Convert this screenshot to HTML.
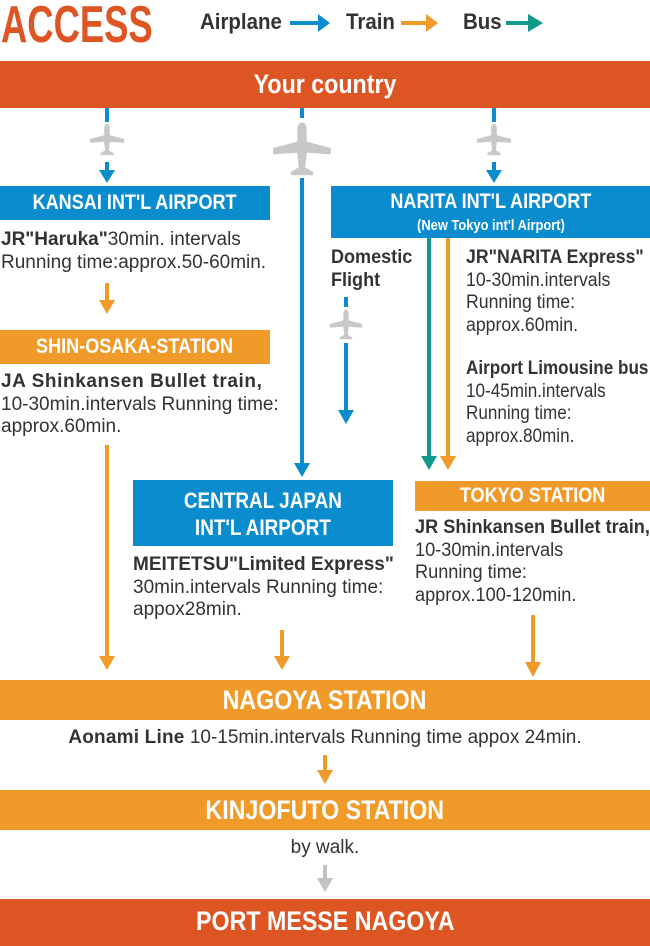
<!DOCTYPE html>
<html><head><meta charset="utf-8"><style>
*{margin:0;padding:0;box-sizing:border-box}
body{width:650px;height:946px;position:relative;background:#fff;overflow:hidden;font-family:"Liberation Sans",sans-serif;color:#333}
.a{position:absolute;white-space:nowrap}
.bar{position:absolute;color:#fff;font-weight:bold;text-align:center}
.bar span{display:inline-block;transform:scaleX(0.86)}
.bl{background:#0a8ccf}.or{background:#f09a2a}.rd{background:#de5524}
.txt{position:absolute;font-size:19px;line-height:22.5px;white-space:nowrap;transform-origin:left top}
b{font-weight:bold}
svg{position:absolute;left:0;top:0}
</style></head><body>
<div class="a" style="left:1px;top:-5px;font-size:52px;font-weight:bold;color:#de5524;transform:scaleX(0.7);transform-origin:left">ACCESS</div>
<div class="a" style="left:200px;top:9px;font-size:22px;font-weight:bold;transform:scaleX(0.93);transform-origin:left">Airplane</div>
<div class="a" style="left:346px;top:9px;font-size:22px;font-weight:bold;transform:scaleX(0.93);transform-origin:left">Train</div>
<div class="a" style="left:463px;top:9px;font-size:22px;font-weight:bold;transform:scaleX(0.93);transform-origin:left">Bus</div>

<div class="bar rd" style="left:0;top:61px;width:650px;height:47px;font-size:27px;line-height:47px"><span>Your country</span></div>
<div class="bar bl" style="left:0;top:186px;width:270px;height:34px;font-size:21px;line-height:34px"><span>KANSAI INT'L AIRPORT</span></div>
<div class="bar bl" style="left:331px;top:186px;width:319px;height:52px;font-size:21px;line-height:22px;padding-top:5px"><span>NARITA INT'L AIRPORT</span><br><span style="font-size:15px;line-height:16px">(New Tokyo int'l Airport)</span></div>
<div class="bar or" style="left:0;top:330px;width:270px;height:34px;font-size:21px;line-height:34px"><span>SHIN-OSAKA-STATION</span></div>
<div class="bar bl" style="left:133px;top:480px;width:260px;height:66px;font-size:22px;line-height:27px;padding-top:7px"><span>CENTRAL JAPAN<br>INT'L AIRPORT</span></div>
<div class="bar or" style="left:415px;top:481px;width:235px;height:30px;font-size:21px;line-height:30px"><span>TOKYO STATION</span></div>
<div class="bar or" style="left:0;top:680px;width:650px;height:40px;font-size:27px;line-height:40px"><span>NAGOYA STATION</span></div>
<div class="bar or" style="left:0;top:790px;width:650px;height:40px;font-size:27px;line-height:40px"><span>KINJOFUTO STATION</span></div>
<div class="bar rd" style="left:0;top:899px;width:650px;height:47px;font-size:27px;line-height:45px"><span>PORT MESSE NAGOYA</span></div>

<div class="txt" style="left:1px;top:229px"><b>JR"Haruka"</b>30min. intervals<br>Running time:approx.50-60min.</div>
<div class="txt" style="left:1px;top:371px"><b style="letter-spacing:0.6px">JA Shinkansen Bullet train,</b><br>10-30min.intervals Running time:<br>approx.60min.</div>
<div class="txt" style="left:331px;top:247px;transform:scaleX(0.95)"><b>Domestic<br>Flight</b></div>
<div class="txt" style="left:466px;top:247px;transform:scaleX(0.93)"><b>JR"NARITA Express"</b><br>10-30min.intervals<br>Running time:<br>approx.60min.</div>
<div class="txt" style="left:466px;top:358px;transform:scaleX(0.9)"><b>Airport Limousine bus</b><br>10-45min.intervals<br>Running time:<br>approx.80min.</div>
<div class="txt" style="left:133px;top:554px"><b>MEITETSU"Limited Express"</b><br>30min.intervals Running time:<br>appox28min.</div>
<div class="txt" style="left:415px;top:517px;transform:scaleX(0.955)"><b>JR Shinkansen Bullet train,</b><br>10-30min.intervals<br>Running time:<br>approx.100-120min.</div>
<div class="txt" style="left:0;top:727px;width:650px;text-align:center"><b style="letter-spacing:0.2px">Aonami Line</b> 10-15min.intervals Running time appox 24min.</div>
<div class="txt" style="left:0;top:837px;width:650px;text-align:center">by walk.</div>

<svg width="650" height="946">
<defs><g id="pl"><path d="M0,-16 C3,-16 3,-12 3,-8 L3,-4 L18,0 L18,4 L3,3 L2,12 L7,15 L7,17 L-7,17 L-7,15 L-2,12 L-3,3 L-18,4 L-18,0 L-3,-4 L-3,-8 C-3,-12 -3,-16 0,-16Z" fill="#c8c8c8"/></g></defs>
<g stroke-width="4" fill="none">
<line x1="107" y1="108" x2="107" y2="172" stroke="#0a8ccf"/>
<line x1="302" y1="108" x2="302" y2="465" stroke="#0a8ccf"/>
<line x1="494" y1="108" x2="494" y2="172" stroke="#0a8ccf"/>
<line x1="346" y1="297" x2="346" y2="412" stroke="#0a8ccf"/>
<line x1="107" y1="283" x2="107" y2="302" stroke="#f09a2a"/>
<line x1="107" y1="445" x2="107" y2="658" stroke="#f09a2a"/>
<line x1="429" y1="238" x2="429" y2="458" stroke="#119a8b"/>
<line x1="448" y1="238" x2="448" y2="458" stroke="#f09a2a"/>
<line x1="282" y1="630" x2="282" y2="658" stroke="#f09a2a"/>
<line x1="533" y1="615" x2="533" y2="664" stroke="#f09a2a"/>
<line x1="325" y1="755" x2="325" y2="772" stroke="#f09a2a"/>
<line x1="325" y1="865" x2="325" y2="880" stroke="#c2c2c2"/>
<line x1="290" y1="23" x2="318" y2="23" stroke="#0a8ccf"/>
<line x1="401" y1="23" x2="428" y2="23" stroke="#f09a2a"/>
<line x1="506" y1="23" x2="530" y2="23" stroke="#119a8b"/>
</g>
<polygon points="318,14 330,23 318,32" fill="#0a8ccf"/>
<polygon points="426,14 438,23 426,32" fill="#f09a2a"/>
<polygon points="528,14 543,23 528,32" fill="#119a8b"/>
<polygon points="99,170 115,170 107,183" fill="#0a8ccf"/>
<polygon points="486,170 502,170 494,183" fill="#0a8ccf"/>
<polygon points="294,463 310,463 302,477" fill="#0a8ccf"/>
<polygon points="338,410 354,410 346,424" fill="#0a8ccf"/>
<polygon points="99,300 115,300 107,314" fill="#f09a2a"/>
<polygon points="99,656 115,656 107,670" fill="#f09a2a"/>
<polygon points="421,456 437,456 429,470" fill="#119a8b"/>
<polygon points="440,456 456,456 448,470" fill="#f09a2a"/>
<polygon points="274,656 290,656 282,670" fill="#f09a2a"/>
<polygon points="525,662 541,662 533,677" fill="#f09a2a"/>
<polygon points="317,770 333,770 325,784" fill="#f09a2a"/>
<polygon points="317,878 333,878 325,892" fill="#c2c2c2"/>
<rect x="85" y="122" width="44" height="40" fill="#fff"/>
<rect x="472" y="122" width="44" height="40" fill="#fff"/>
<rect x="268" y="118" width="68" height="60" fill="#fff"/>
<rect x="326" y="307" width="40" height="36" fill="#fff"/>
<use href="#pl" transform="translate(107,139) scale(0.95)"/>
<use href="#pl" transform="translate(494,139) scale(0.95)"/>
<use href="#pl" transform="translate(302,148) scale(1.6)"/>
<use href="#pl" transform="translate(346,324) scale(0.9)"/>
</svg>
</body></html>
